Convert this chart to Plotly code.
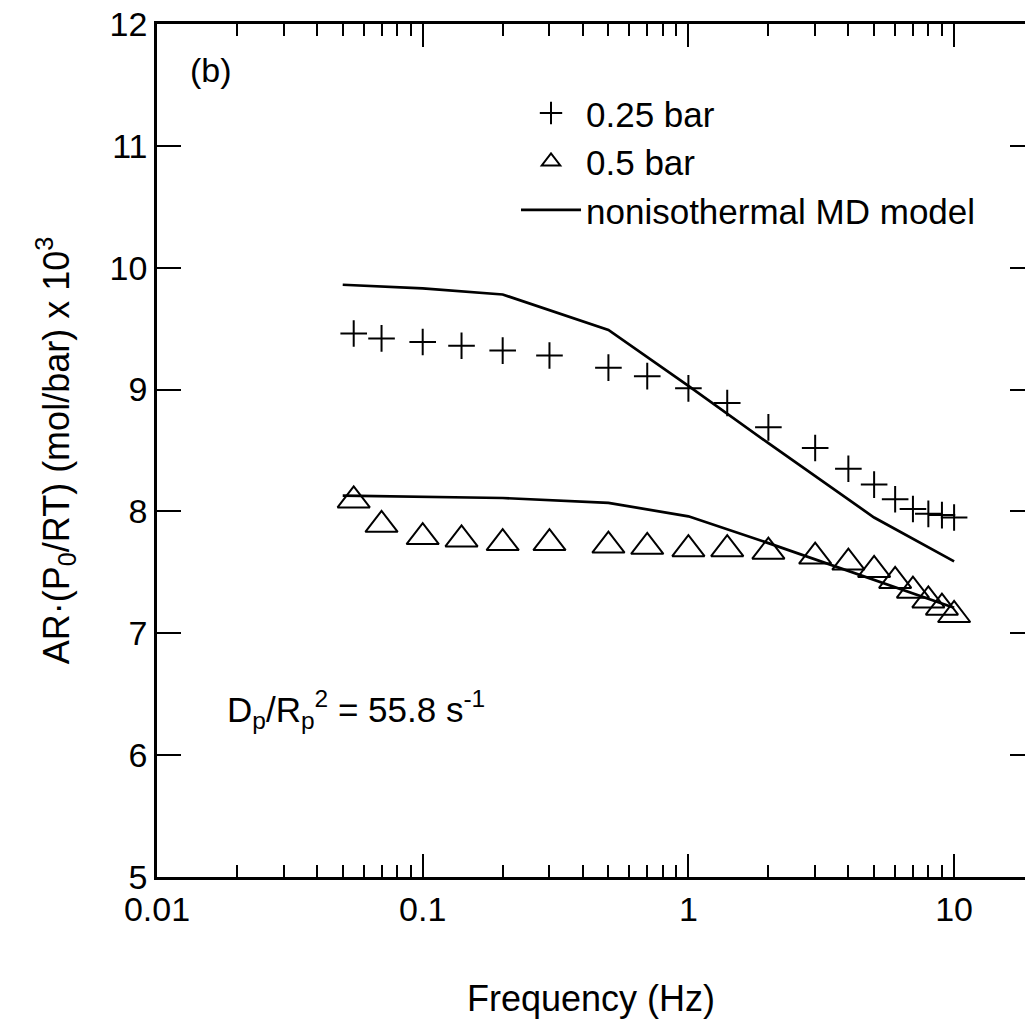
import plotly.graph_objects as go

# ---- data ----
freq_data = [0.055, 0.07, 0.1, 0.14, 0.2, 0.3, 0.5, 0.7, 1, 1.4, 2, 3, 4, 5, 6, 7, 8, 9, 10]
ar_025 = [9.46, 9.42, 9.39, 9.36, 9.32, 9.28, 9.18, 9.11, 9.01, 8.89, 8.69, 8.52,
          8.35, 8.22, 8.10, 8.02, 7.98, 7.97, 7.95]
ar_05 = [8.09, 7.89, 7.79, 7.77, 7.74, 7.74, 7.72, 7.71, 7.69, 7.69, 7.67, 7.63,
         7.58, 7.52, 7.43, 7.35, 7.27, 7.21, 7.15]

freq_model = [0.05, 0.1, 0.2, 0.5, 1, 2, 5, 10]
model_025 = [9.86, 9.83, 9.78, 9.49, 9.03, 8.56, 7.95, 7.59]
model_05 = [8.13, 8.12, 8.11, 8.07, 7.96, 7.74, 7.44, 7.21]

x_major = [0.01, 0.1, 1, 10]
x_major_text = ["0.01", "0.1", "1", "10"]
x_minor = [m * d for d in [0.01, 0.1, 1, 10] for m in range(2, 10)]
y_ticks = [5, 6, 7, 8, 9, 10, 11, 12]

FONT = "Liberation Sans, Arial, Helvetica, sans-serif"

fig = go.Figure()

fig.add_trace(go.Scatter(
    x=freq_data, y=ar_025, mode="markers", name="0.25 bar",
    marker=dict(symbol="cross-thin-open", size=19, color="black",
                line=dict(color="black", width=2)),
))
fig.add_trace(go.Scatter(
    x=freq_data, y=ar_05, mode="markers", name="0.5 bar",
    marker=dict(symbol="triangle-up-open", size=28, color="black",
                line=dict(color="black", width=2)),
))
fig.add_trace(go.Scatter(
    x=freq_model, y=model_025, mode="lines", name="nonisothermal MD model",
    legendgroup="model", line=dict(color="black", width=2.7),
))
fig.add_trace(go.Scatter(
    x=freq_model, y=model_05, mode="lines", name="nonisothermal MD model",
    legendgroup="model", showlegend=False, line=dict(color="black", width=2.7),
))
# helper trace so the right-hand tick axis is drawn
fig.add_trace(go.Scatter(x=[None], y=[None], yaxis="y2", showlegend=False,
                         hoverinfo="skip", mode="markers"))

fig.update_layout(
    width=1025, height=1022,
    margin=dict(l=157, r=0, t=24, b=145, autoexpand=False),
    paper_bgcolor="white", plot_bgcolor="white",
    font=dict(family=FONT, size=36, color="black"),
    showlegend=True,
    legend=dict(x=0.4136, y=0.93, xanchor="left", yanchor="top",
                bgcolor="rgba(0,0,0,0)", font=dict(size=35, family=FONT),
                itemsizing="trace", itemwidth=60, tracegroupgap=0),
    xaxis=dict(
        type="log", range=[-2, -2 + 868 / 265.7], autorange=False,
        showgrid=False, zeroline=False,
        showline=True, linecolor="black", linewidth=2.5, mirror="ticks",
        tickmode="array", tickvals=x_major, ticktext=x_major_text,
        ticks="inside", ticklen=23, tickwidth=2.2, tickcolor="black",
        tickfont=dict(size=34, family=FONT),
        minor=dict(tickmode="array", tickvals=x_minor, ticks="inside",
                   ticklen=12, tickwidth=2.2, tickcolor="black", showgrid=False),
        title=dict(text="Frequency (Hz)", font=dict(size=36, family=FONT), standoff=60),
        automargin=False,
    ),
    yaxis=dict(
        range=[5, 12], autorange=False,
        showgrid=False, zeroline=False,
        showline=True, linecolor="black", linewidth=2.5, mirror=False,
        tickmode="array", tickvals=y_ticks,
        ticks="inside", ticklen=24, tickwidth=2.2, tickcolor="black",
        tickfont=dict(size=34, family=FONT),
        title=dict(text="AR·(P<sub>0</sub>/RT) (mol/bar) x 10<sup>3</sup>",
                   font=dict(size=36, family=FONT), standoff=30),
        automargin=False,
    ),
    yaxis2=dict(
        overlaying="y", side="right", range=[5, 12], autorange=False,
        showgrid=False, zeroline=False, showline=False,
        tickmode="array", tickvals=y_ticks, showticklabels=False,
        ticks="inside", ticklen=15, tickwidth=2.2, tickcolor="black",
        automargin=False,
    ),
    annotations=[
        dict(text="(b)", xref="paper", yref="paper", x=0.0357, y=0.946,
             xanchor="left", yanchor="middle", showarrow=False,
             font=dict(size=34, family=FONT)),
        dict(text="D<sub>p</sub>/R<sub>p</sub><sup>2</sup> = 55.8 s<sup>-1</sup>",
             xref="paper", yref="paper", x=0.078, y=0.196,
             xanchor="left", yanchor="middle", showarrow=False,
             font=dict(size=35, family=FONT)),
    ],
)

fig.write_html("out.html")
